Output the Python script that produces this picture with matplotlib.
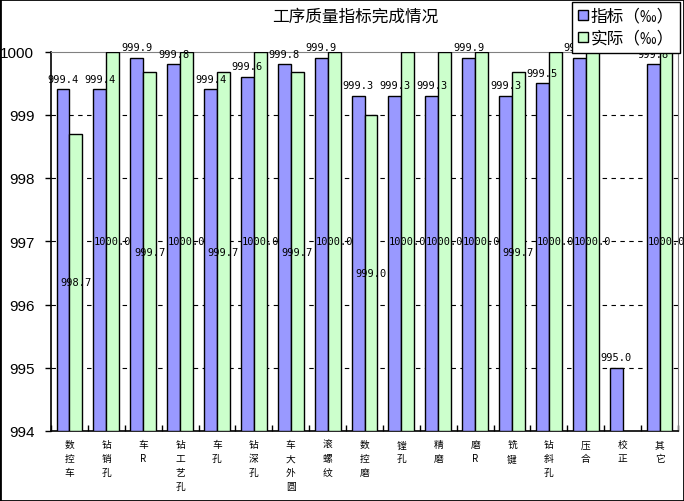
import matplotlib
matplotlib.use("Agg")
import matplotlib.pyplot as plt
import matplotlib.patches as patches
import numpy as np

plt.rcParams['font.family'] = ['Noto Sans CJK SC', 'DejaVu Sans']

CATEGORIES = ['数控车', '钻销孔', '车R', '钻工艺孔', '车孔', '钻深孔', '车大外圆', '滚螺纹',
              '数控磨', '镗孔', '精磨', '磨R', '铣键', '钻斜孔', '压合', '校正', '其它']
TARGET = [999.4, 999.4, 999.9, 999.8, 999.4, 999.6, 999.8, 999.9, 999.3,
          999.3, 999.3, 999.9, 999.3, 999.5, 999.9, 995.0, 999.8]
ACTUAL = [998.7, 1000.0, 999.67, 1000.0, 999.67, 1000.0, 999.67, 1000.0, 999.0,
          1000.0, 1000.0, 1000.0, 999.67, 1000.0, 1000.0, np.nan, 1000.0]
Y_TICKS = [994, 995, 996, 997, 998, 999, 1000]
TITLE = '工序质量指标完成情况'
SERIES_LABELS = ['指标（‰）', '实际（‰）']

BASE = 994
width = 0.35

fig = plt.figure(figsize=(6.84, 5.02), dpi=100)
ax = fig.add_axes([51 / 684, 1 - 432 / 502, 627 / 684, 379.5 / 502])

x = np.arange(len(CATEGORIES))
target = np.array(TARGET)
actual = np.array(ACTUAL)

b1 = ax.bar(x - width / 2, target - BASE, width, bottom=BASE, color='#9999FF',
            edgecolor='black', linewidth=1, label=SERIES_LABELS[0], zorder=3)
b2 = ax.bar(x + width / 2, actual - BASE, width, bottom=BASE, color='#CCFFCC',
            edgecolor='black', linewidth=1, label=SERIES_LABELS[1], zorder=3)

# value labels: target above the bar, actual in the middle of the bar
for xi, v in zip(x, target):
    ax.annotate(f'{v:.1f}', (xi - width / 2, v), xytext=(0, 4), textcoords='offset points',
                ha='center', va='bottom', fontsize=7.5, family='DejaVu Sans Mono',
                zorder=5, annotation_clip=False)
for xi, v in zip(x, actual):
    if np.isnan(v):
        continue
    ax.text(xi + width / 2, (v + BASE) / 2, f'{v:.1f}', ha='center', va='center',
            fontsize=7.5, family='DejaVu Sans Mono', zorder=5)

ax.set_ylim(BASE, 1000)
ax.set_xlim(-0.5, len(CATEGORIES) - 0.5)
ax.set_yticks(Y_TICKS)
ax.set_yticklabels([str(t) for t in Y_TICKS], family='Liberation Sans', fontsize=11)
for t in Y_TICKS[1:-1]:
    ax.axhline(t, color='black', linestyle=(0, (4, 4)), linewidth=0.8, zorder=1)

ax.set_xticks(x)
ax.set_xticklabels(['\n'.join(c) for c in CATEGORIES], fontsize=7, linespacing=1.5, va='top')
ax.set_xticks(np.arange(-0.5, len(CATEGORIES), 1), minor=True)
ax.tick_params(axis='x', which='major', length=0, pad=6)
ax.tick_params(axis='x', which='minor', direction='in', length=4, width=1)
ax.tick_params(axis='y', direction='out', length=4, width=1, pad=8)

ax.spines['left'].set_color('black')
ax.spines['bottom'].set_color('black')
ax.spines['left'].set_linewidth(1.2)
ax.spines['bottom'].set_linewidth(1.2)
ax.spines['top'].set_color('#808080')
ax.spines['right'].set_color('#808080')

fig.text(355 / 684, 1 - 17 / 502, TITLE, ha='center', va='center', fontsize=12)

leg = fig.legend(handles=[b1, b2], loc='upper right', bbox_to_anchor=(680 / 684, 1 - 3 / 502),
                 fontsize=12, frameon=True, fancybox=False, handlelength=0.6, handleheight=0.6,
                 handletextpad=0.2, borderpad=0.35, labelspacing=0.3, borderaxespad=0)
leg.get_frame().set_edgecolor('black')
leg.get_frame().set_linewidth(1)
leg.get_frame().set_alpha(1)

fig.patches.append(patches.Rectangle((0, 0), 1, 1, transform=fig.transFigure, fill=False,
                                     edgecolor='black', linewidth=2))

fig.savefig('out.png', dpi=100)
